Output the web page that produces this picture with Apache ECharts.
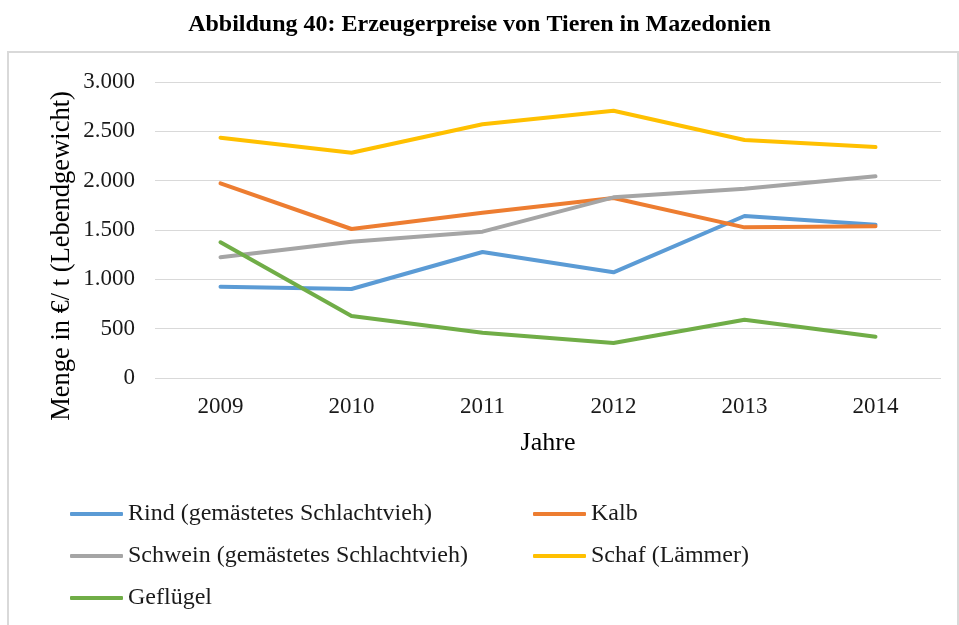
<!DOCTYPE html>
<html>
<head>
<meta charset="utf-8">
<script src="https://cdn.jsdelivr.net/npm/echarts@6/dist/echarts.min.js"></script>
<style>
  html, body { margin: 0; padding: 0; background: #fff; }
  #chart { width: 959px; height: 625px; }
</style>
</head>
<body>
<div id="chart"></div>
<script>
// Jahre (x-axis categories)
const years = ['2009', '2010', '2011', '2012', '2013', '2014'];

// Erzeugerpreise in €/t Lebendgewicht
const rind      = [925, 902, 1277, 1071, 1642, 1554];
const kalb      = [1973, 1510, 1675, 1825, 1527, 1537];
const schwein   = [1223, 1382, 1483, 1831, 1919, 2044];
const schaf     = [2435, 2283, 2571, 2709, 2412, 2341];
const gefluegel = [1375, 628, 459, 355, 591, 419];

const names = [
  'Rind (gemästetes Schlachtvieh)',
  'Kalb',
  'Schwein (gemästetes Schlachtvieh)',
  'Schaf (Lämmer)',
  'Geflügel'
];
const colors = ['#5B9BD5', '#ED7D31', '#A5A5A5', '#FFC000', '#70AD47'];
const values = [rind, kalb, schwein, schaf, gefluegel];

const serif = '"Liberation Serif", "Times New Roman", serif';

const chart = echarts.init(document.getElementById('chart'));

const legendBase = {
  orient: 'vertical',
  top: 497,
  itemWidth: 53,
  itemHeight: 4,
  itemGap: 18,
  icon: 'roundRect',
  textStyle: { fontFamily: serif, fontSize: 24, color: '#1a1a1a' }
};

chart.setOption({
  backgroundColor: '#fff',
  animation: false,
  title: {
    text: 'Abbildung 40: Erzeugerpreise von Tieren in Mazedonien',
    left: 'center',
    top: 8,
    textStyle: { fontFamily: serif, fontWeight: 'bold', fontSize: 24, color: '#000' }
  },
  graphic: [
    {
      type: 'rect',
      shape: { x: 8, y: 52, width: 950, height: 580 },
      style: { fill: 'none', stroke: '#d9d9d9', lineWidth: 2 },
      silent: true,
      z: -1
    },
    {
      // y-axis title
      type: 'text',
      x: 62,
      y: 256,
      rotation: Math.PI / 2,
      style: {
        text: 'Menge in €/ t (Lebendgewicht)',
        font: '26.5px ' + serif,
        fill: '#000',
        align: 'center',
        verticalAlign: 'middle'
      },
      silent: true
    }
  ],
  legend: [
    Object.assign({ data: [names[0], names[2], names[4]], left: 65 }, legendBase),
    Object.assign({ data: [names[1], names[3]], left: 528 }, legendBase)
  ],
  grid: { left: 155, right: 18, top: 82, bottom: 247, containLabel: false },
  xAxis: {
    type: 'category',
    data: years,
    boundaryGap: true,
    axisLine: { show: false },
    axisTick: { show: false },
    axisLabel: { fontFamily: serif, fontSize: 23, color: '#1a1a1a', margin: 17 },
    name: 'Jahre',
    nameLocation: 'middle',
    nameGap: 52,
    nameTextStyle: { fontFamily: serif, fontSize: 26, color: '#000' }
  },
  yAxis: {
    type: 'value',
    min: 0,
    max: 3000,
    interval: 500,
    axisLine: { show: false },
    axisTick: { show: false },
    splitLine: { lineStyle: { color: '#d9d9d9', width: 1 } },
    axisLabel: {
      fontFamily: serif, fontSize: 23, color: '#1a1a1a', margin: 20,
      formatter: v => v >= 1000 ? Math.floor(v / 1000) + '.' + String(v % 1000).padStart(3, '0') : String(v)
    }
  },
  series: names.map((n, i) => ({
    name: n,
    type: 'line',
    data: values[i],
    symbol: 'none',
    color: colors[i],
    lineStyle: { width: 4, color: colors[i], cap: 'round', join: 'round' }
  }))
});
</script>
</body>
</html>
